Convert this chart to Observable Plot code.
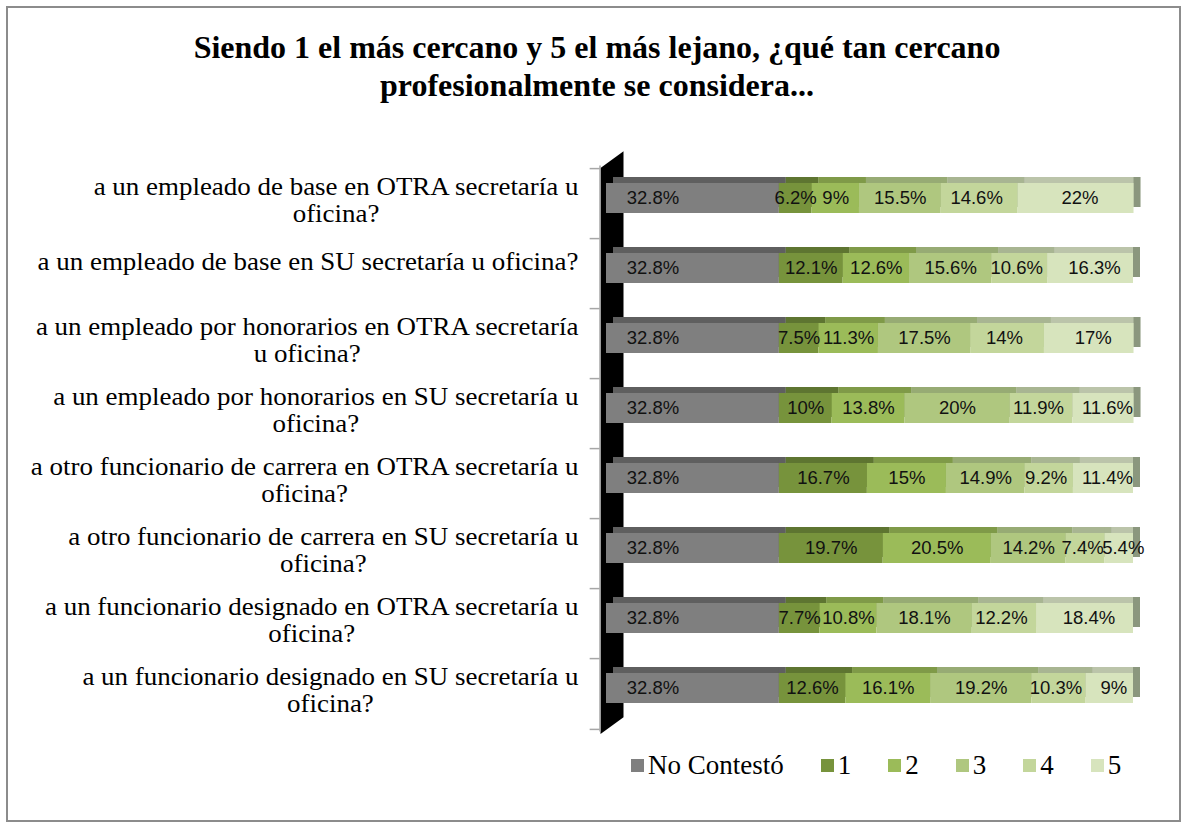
<!DOCTYPE html>
<html>
<head>
<meta charset="utf-8">
<script src="https://cdn.jsdelivr.net/npm/d3@7"></script>
<script src="https://cdn.jsdelivr.net/npm/@observablehq/plot@0.6"></script>
<style>
  body { margin: 0; background: #fff; }
  #wrap { position: relative; width: 1186px; height: 827px; overflow: hidden; background: #fff; }
  #border { position: absolute; left: 6px; top: 6px; width: 1175px; height: 816px; border: 2px solid #8c8c8c; box-sizing: border-box; }
  #title { position: absolute; left: 0; top: 28px; width: 1194px; text-align: center;
           font: bold 32px "Liberation Serif", serif; line-height: 38px; color: #000; }
  #chart { position: absolute; left: 0; top: 110px; }
  #legend { position: absolute; left: 631px; top: 749px; }
  .lg-swatch { margin-right: 37px !important; font-family: "Liberation Serif", serif !important; font-size: 27px !important; color: #000 !important; }
  .lg-swatch > svg { margin-right: 4px !important; }
  .lg { font-family: "Liberation Serif", serif !important; font-size: 27px !important; color: #000 !important; }
</style>
</head>
<body>
<div id="wrap">
  <div id="border"></div>
  <div id="title">Siendo 1 el más cercano y 5 el más lejano, ¿qué tan cercano<br>profesionalmente se considera...</div>
  <div id="chart"></div>
  <div id="legend"></div>
</div>
<script>
// ---- data ----
const questions = [
  "a un empleado de base en OTRA secretaría u oficina?",
  "a un empleado de base en SU secretaría u oficina?",
  "a un empleado por honorarios en OTRA secretaría u oficina?",
  "a un empleado por honorarios en SU secretaría u oficina?",
  "a otro funcionario de carrera en OTRA secretaría u oficina?",
  "a otro funcionario de carrera en SU secretaría u oficina?",
  "a un funcionario designado en OTRA secretaría u oficina?",
  "a un funcionario designado en SU secretaría u oficina?"
];
const questionLines = [
  "a un empleado de base en OTRA secretaría u\noficina?",
  "a un empleado de base en SU secretaría u oficina?",
  "a un empleado por honorarios en OTRA secretaría\nu oficina?",
  "a un empleado por honorarios en SU secretaría u\noficina?",
  "a otro funcionario de carrera en OTRA secretaría u\noficina?",
  "a otro funcionario de carrera en SU secretaría u\noficina?",
  "a un funcionario designado en OTRA secretaría u\noficina?",
  "a un funcionario designado en SU secretaría u\noficina?"
];
const series = ["No Contestó", "1", "2", "3", "4", "5"];
const noContesto = [32.8, 32.8, 32.8, 32.8, 32.8, 32.8, 32.8, 32.8];
const s1 = [6.2, 12.1, 7.5, 10, 16.7, 19.7, 7.7, 12.6];
const s2 = [9, 12.6, 11.3, 13.8, 15, 20.5, 10.8, 16.1];
const s3 = [15.5, 15.6, 17.5, 20, 14.9, 14.2, 18.1, 19.2];
const s4 = [14.6, 10.6, 14, 11.9, 9.2, 7.4, 12.2, 10.3];
const s5 = [22, 16.3, 17, 11.6, 11.4, 5.4, 18.4, 9];

const frontColors = ["#7f7f7f", "#77933c", "#9bbb59", "#afc77f", "#c3d69b", "#d7e4bd"];
const topColors   = ["#5f5f5f", "#5e7531", "#7f9a48", "#97ab74", "#a8b592", "#bbc4aa"];
const sideColor = "#8b977e";

const seriesValues = [noContesto, s1, s2, s3, s4, s5];
const rows = questions.flatMap((q, qi) =>
  series.map((s, si) => ({question: q, series: s, si, value: seriesValues[si][qi]})));

const W = 1186, H = 640;
const depthX = 7, depthY = 6;
const labelFont = {fontFamily: "Liberation Sans", fontSize: 18.5, fill: "#111"};
const catStretch = 1.1;

const plot = Plot.plot({
  width: W,
  height: H,
  marginLeft: 606,
  marginRight: 53,
  marginTop: 50,
  marginBottom: 24,
  style: {background: "transparent", overflow: "visible"},
  x: {domain: [0, 100], axis: null},
  y: {domain: questions, paddingInner: 0.5766, paddingOuter: 0.288, axis: null},
  color: {type: "identity"},
  marks: [
    // back wall
    Plot.ruleX([0], {stroke: "#000", strokeWidth: 23, dx: 5.5, className: "wall"}),
    // axis line and ticks at the left of the wall
    Plot.ruleX([0], {stroke: "#a6a6a6", strokeWidth: 1.5, dx: -6.5, dy: 5.5}),
    Plot.ruleY(questions, {y: d => d, x1: -3.1, x2: -1.2, stroke: "#a6a6a6", strokeWidth: 1.5, dy: -29.9}),
    Plot.ruleY(questions.slice(-1), {y: d => d, x1: -3.1, x2: -1.2, stroke: "#a6a6a6", strokeWidth: 1.5, dy: 40.9}),
    // 3D depth: top faces + right end face
    Plot.barX(rows, Plot.stackX({x: "value", y: "question", dx: depthX, dy: -depthY,
      fill: d => d.si === 5 ? sideColor : topColors[d.si]})),
    Plot.barX(rows, Plot.stackX({x: "value", y: "question", dx: depthX, dy: -depthY, insetRight: depthX,
      fill: d => topColors[d.si]})),
    // front faces
    Plot.barX(rows, Plot.stackX({x: "value", y: "question", fill: d => frontColors[d.si]})),
    // value labels
    Plot.text(rows.filter(d => d.si === 0), Plot.stackX({x: "value", y: "question",
      text: d => d.value + "%", dx: -40, ...labelFont})),
    Plot.text(rows, Plot.stackX({x: "value", y: "question",
      text: d => (d.si === 0 || d.si >= 4) ? "" : d.value + "%", ...labelFont})),
    Plot.text(rows, Plot.stackX({x: "value", y: "question",
      text: d => d.si === 4 ? d.value + "%" : "", dx: -3, ...labelFont})),
    Plot.text(rows, Plot.stackX({x: "value", y: "question",
      text: d => d.si === 5 ? d.value + "%" : "", dx: 4, ...labelFont})),
    // category labels
    Plot.axisY({tickSize: 0, tickPadding: 28, label: null, className: "ylab",
      tickFormat: d => questionLines[questions.indexOf(d)],
      fontSize: 24.5, fontFamily: "Liberation Serif", lineHeight: 1.1, dy: 1, fill: "#000"})
  ]
});
document.getElementById("chart").appendChild(plot);

// skew the wall like a 3D side wall
d3.select(plot).selectAll("g.wall").each(function () {
  const t = this.getAttribute("transform") || "";
  this.setAttribute("transform", `translate(611.5,0) skewY(-36) translate(-611.5,0) ${t}`);
});
// centre multi-line category labels inside a right-aligned block (slightly widened like the original)
d3.select(plot).selectAll("g.ylab text").each(function () {
  const w = this.getBBox().width;
  const x = +this.getAttribute("x") || 0;
  const y = +this.getAttribute("y") || 0;
  this.removeAttribute("x");
  this.removeAttribute("y");
  this.setAttribute("text-anchor", "middle");
  const t = this.getAttribute("transform") || "";
  this.setAttribute("transform", `${t} translate(${x},${y}) scale(${catStretch},1) translate(${-w / 2},0)`);
});

const legend = Plot.legend({
  color: {type: "ordinal", domain: series, range: frontColors},
  legend: "swatches",
  swatchSize: 13,
  className: "lg"
});
document.getElementById("legend").appendChild(legend);
</script>
</body>
</html>
